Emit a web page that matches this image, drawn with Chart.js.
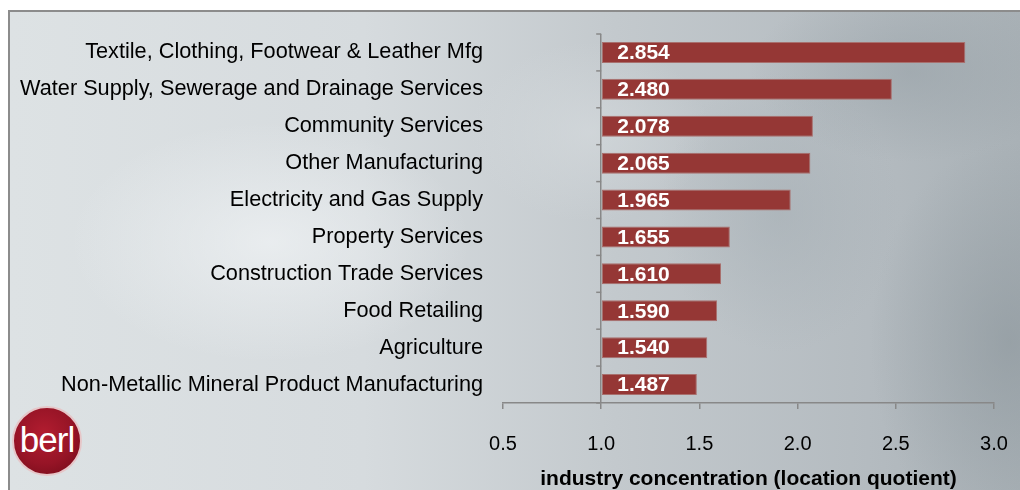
<!DOCTYPE html>
<html>
<head>
<meta charset="utf-8">
<script src="https://cdn.jsdelivr.net/npm/chart.js@4.4.0/dist/chart.umd.min.js"></script>
<style>
  html, body { margin: 0; padding: 0; background: #fff; }
  #wrap { position: relative; width: 1020px; height: 490px; overflow: hidden; }
  #bg {
    position: absolute; left: 8px; top: 10px; right: 0; bottom: 0;
    border-top: 2px solid #8c8c8c; border-left: 2px solid #8c8c8c;
    background:
      radial-gradient(ellipse 160px 90px at 900px 60px, rgba(150,160,166,0.55), rgba(150,160,166,0) 100%),
      radial-gradient(ellipse 140px 200px at 1000px 330px, rgba(140,150,156,0.6), rgba(140,150,156,0) 100%),
      radial-gradient(ellipse 120px 140px at 770px 200px, rgba(160,170,176,0.45), rgba(160,170,176,0) 100%),
      radial-gradient(ellipse 200px 120px at 260px 230px, rgba(240,243,245,0.7), rgba(240,243,245,0) 100%),
      radial-gradient(ellipse 120px 90px at 580px 120px, rgba(215,220,223,0.6), rgba(215,220,223,0) 100%),
      linear-gradient(90deg, #dde2e4 0%, #d6dbde 35%, #c3c9cd 60%, #b4bbc0 85%, #a9b1b6 100%);
  }
  #logo {
    position: absolute; left: 12px; top: 406px; width: 70px; height: 70px;
    border-radius: 50%;
    background: radial-gradient(circle at 45% 40%, #b31d30 0%, #961426 55%, #6e0a17 100%);
    border: 2px solid #e6c6c8;
    box-sizing: border-box;
    color: #fff; font: 35px "Liberation Sans", Arial, sans-serif;
    letter-spacing: -1px;
    text-align: center; line-height: 64px;
  }
  canvas { position: absolute; left: 0; top: 0; }
</style>
</head>
<body>
<div id="wrap">
  <div id="bg"></div>
  <div id="logo">berl</div>
  <canvas id="chart" width="1020" height="490"></canvas>
</div>
<script>
const industries = [
  "Textile, Clothing, Footwear & Leather Mfg",
  "Water Supply, Sewerage and Drainage Services",
  "Community Services",
  "Other Manufacturing",
  "Electricity and Gas Supply",
  "Property Services",
  "Construction Trade Services",
  "Food Retailing",
  "Agriculture",
  "Non-Metallic Mineral Product Manufacturing"
];
const locationQuotient = [2.854, 2.480, 2.078, 2.065, 1.965, 1.655, 1.610, 1.590, 1.540, 1.487];
const baseValue = 1.0;
const xTicks = [0.5, 1.0, 1.5, 2.0, 2.5, 3.0];
const axisTitle = "industry concentration (location quotient)";

const FONT = "'Liberation Sans', Arial, sans-serif";
const GREY = "#888888";

// value labels inside bars + little category ticks on the 1.0 line
const barLabels = {
  id: "barLabels",
  afterDatasetsDraw(chart) {
    const ctx = chart.ctx;
    const xs = chart.scales.x, ys = chart.scales.y;
    const x0 = xs.getPixelForValue(baseValue);
    ctx.save();
    ctx.strokeStyle = GREY;
    ctx.lineWidth = 1.5;
    for (let i = 0; i <= industries.length; i++) {
      const y = ys.getPixelForValue(i - 0.5);
      ctx.beginPath();
      ctx.moveTo(x0 - 5, y);
      ctx.lineTo(x0, y);
      ctx.stroke();
    }
    ctx.fillStyle = "#fff";
    ctx.font = "bold 21px " + FONT;
    ctx.textBaseline = "middle";
    ctx.textAlign = "left";
    chart.getDatasetMeta(0).data.forEach((bar, i) => {
      ctx.fillText(locationQuotient[i].toFixed(3), x0 + 16, bar.y + 1);
    });
    ctx.restore();
  }
};

new Chart(document.getElementById("chart"), {
  type: "bar",
  data: {
    labels: industries,
    datasets: [{
      data: locationQuotient,
      base: baseValue,
      backgroundColor: "#953735",
      borderColor: "#a8706e",
      borderWidth: 1,
      borderSkipped: false,
      barPercentage: 0.57,
      categoryPercentage: 1.0
    }]
  },
  options: {
    indexAxis: "y",
    responsive: false,
    animation: false,
    layout: { padding: { top: 34, right: 26, left: 0, bottom: 0 } },
    plugins: { legend: { display: false }, tooltip: { enabled: false } },
    scales: {
      y: {
        grid: { display: false, drawTicks: false },
        border: { display: false },
        ticks: { color: "#000", font: { family: FONT, size: 21.7 }, padding: 20, autoSkip: false },
        afterFit(s) { s.width = 503; s.paddingTop = 0; s.paddingBottom = 0; }
      },
      x: {
        min: xTicks[0],
        max: xTicks[xTicks.length - 1],
        afterBuildTicks(s) { s.ticks = xTicks.map(v => ({ value: v })); },
        grid: {
          drawOnChartArea: true,
          color: c => (c.tick && c.tick.value === baseValue ? GREY : "rgba(0,0,0,0)"),
          tickColor: GREY,
          lineWidth: 1.5,
          drawTicks: true,
          tickLength: 6
        },
        border: { display: true, color: GREY, width: 1.5 },
        ticks: {
          color: "#000",
          font: { family: FONT, size: 20 },
          padding: 23,
          callback: v => Number(v).toFixed(1)
        },
        title: {
          display: true,
          text: axisTitle,
          color: "#000",
          font: { family: FONT, size: 21, weight: "bold" },
          padding: { top: 0, bottom: -2 }
        },
        afterFit(s) { s.height = 87; s.paddingLeft = 0; s.paddingRight = 0; }
      }
    }
  },
  plugins: [barLabels]
});
</script>
</body>
</html>
